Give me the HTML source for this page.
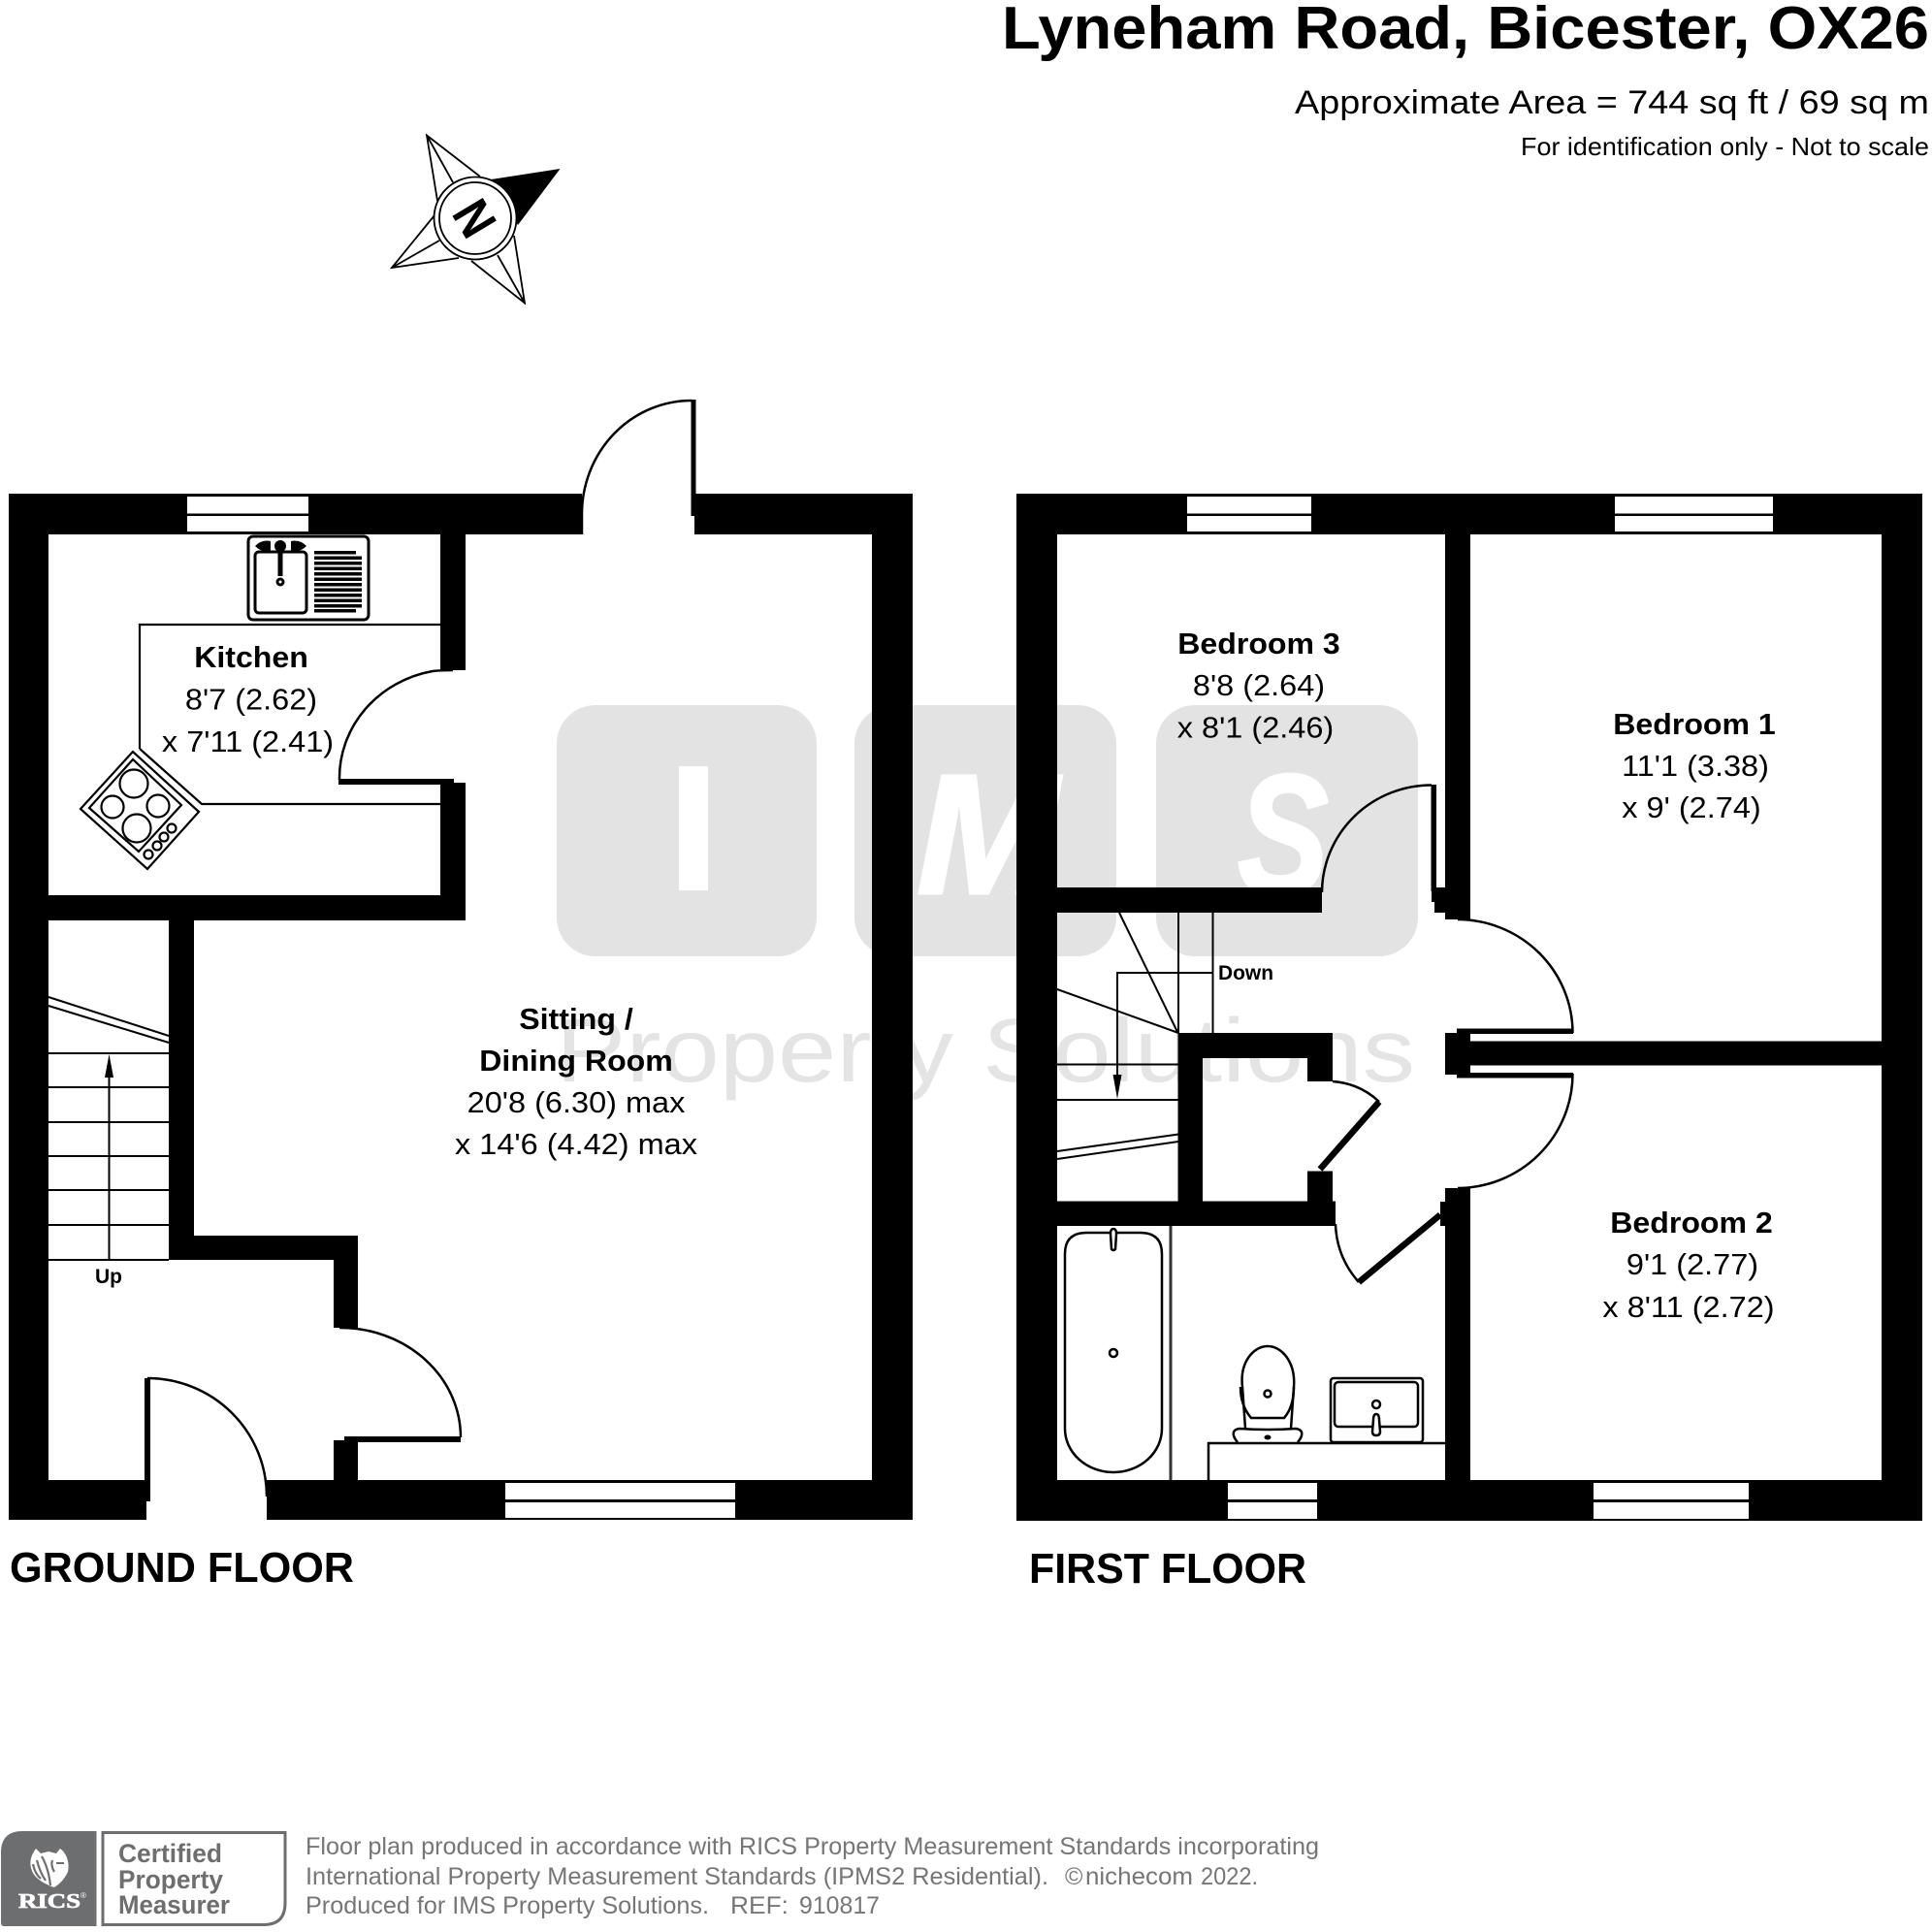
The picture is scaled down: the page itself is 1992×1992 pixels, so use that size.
<!DOCTYPE html>
<html>
<head>
<meta charset="utf-8">
<title>Lyneham Road, Bicester, OX26 floor plan</title>
<style>
html,body{margin:0;padding:0;background:#fff}
svg{display:block}
text{font-family:"Liberation Sans",Arial,sans-serif;fill:#000}
.l{font-size:31px;text-anchor:middle}
.lb{font-size:31px;font-weight:700;text-anchor:middle}
.f{font-size:25px;fill:#767676}
.c{font-size:27px;font-weight:700;fill:#6d6e70}
.wm{font-size:176px;font-weight:700;font-style:italic;fill:#fff;stroke:#fff;stroke-width:3px}
</style>
</head>
<body>
<svg xmlns="http://www.w3.org/2000/svg" width="1992" height="1992" viewBox="0 0 1992 1992">
<rect width="1992" height="1992" fill="#fff"/>

<!-- watermark -->
<g fill="#e3e3e3">
<rect x="574" y="727" width="268" height="259" rx="40"/>
<rect x="881" y="727" width="270" height="259" rx="40"/>
<rect x="1192" y="727" width="270" height="259" rx="40"/>
</g>
<rect x="700" y="790" width="30" height="128" fill="#fff"/>
<text class="wm" x="945" y="921">M</text>
<text class="wm" transform="translate(1276 921) scale(.8 1)">S</text>
<text x="573" y="1115" font-size="93" textLength="886" lengthAdjust="spacingAndGlyphs" style="fill:#e4e4e4">Property Solutions</text>

<!-- ground floor walls -->
<g fill="#000">
<rect x="9" y="509" width="591" height="42"/>
<rect x="717" y="509" width="224" height="23"/>
<rect x="716" y="531" width="225" height="20"/>
<rect x="9" y="509" width="41" height="1058"/>
<rect x="899" y="509" width="42" height="1058"/>
<rect x="9" y="1526" width="142" height="41"/>
<rect x="275" y="1526" width="666" height="41"/>
<rect x="454" y="551" width="26" height="140"/>
<rect x="454" y="807" width="26" height="142"/>
<rect x="9" y="923" width="471" height="26"/>
<rect x="174" y="949" width="26" height="350"/>
<rect x="174" y="1274" width="195" height="25"/>
<rect x="344" y="1274" width="25" height="95"/>
<rect x="344" y="1485" width="25" height="41"/>
<rect x="355" y="1482" width="14" height="4"/>
<!-- door leaves -->
<rect x="712.500" y="412" width="5" height="120"/>
<rect x="349" y="803" width="119" height="6"/>
<rect x="355" y="1481" width="120" height="6"/>
<rect x="149" y="1421" width="6" height="127"/>
</g>
<!-- ground windows -->
<g fill="#fff">
<rect x="193" y="512" width="125" height="17.500"/>
<rect x="193" y="532" width="125" height="16"/>
<rect x="521" y="1529" width="237" height="17"/>
<rect x="521" y="1549" width="237" height="16"/>
</g>
<!-- ground arcs + lines -->
<g fill="none" stroke="#000" stroke-width="2.500">
<path d="M713 413 A113 117 0 0 0 600 530 L600 551"/>
<path d="M467 691 Q454 691 446 692 A118 112 0 0 0 350 804"/>
<path d="M350 1369 A124 113 0 0 1 475 1482"/>
<path d="M152 1421 A123 122 0 0 1 275 1543"/>
<path d="M144 772 L144 644 L454 644 M144 772 L208 829 L454 829" stroke-width="2.200"/>
<path d="M50 1028 L174 1068 M50 1037 L174 1075" stroke-width="2"/>
<path d="M50 1086 H174 M50 1121 H174 M50 1157 H174 M50 1192 H174 M50 1227 H174 M50 1263 H174 M50 1299 H174" stroke-width="2"/>
<path d="M112.500 1299 V1100" stroke-width="2"/>
</g>
<path d="M112.500 1087 L117 1111 H108 Z" fill="#000"/>

<!-- sink -->
<g fill="none" stroke="#000" stroke-width="3">
<rect x="256" y="553" width="124" height="86" rx="5"/>
<rect x="263" y="569" width="53" height="63" rx="4"/>
<circle cx="289" cy="600" r="3"/>
</g>
<g fill="#000">
<circle cx="289" cy="563" r="6"/>
<rect x="286.500" y="563" width="5" height="31"/>
<path d="M263 563 Q270 556 279 558 V568 Q270 570 263 563Z"/>
<path d="M316 563 Q309 556 300 558 V568 Q309 570 316 563Z"/>
<rect x="324" y="568" width="43" height="3.500"/><rect x="324" y="573.500" width="49" height="3.500"/>
<rect x="324" y="579" width="49" height="3.500"/><rect x="324" y="584.500" width="49" height="3.500"/>
<rect x="324" y="590" width="49" height="3.500"/><rect x="324" y="595.500" width="49" height="3.500"/>
<rect x="324" y="601" width="49" height="3.500"/><rect x="324" y="606.500" width="49" height="3.500"/>
<rect x="324" y="612" width="49" height="3.500"/><rect x="324" y="617.500" width="49" height="3.500"/>
<rect x="324" y="623" width="49" height="3.500"/><rect x="324" y="628" width="43" height="3.500"/>
</g>
<!-- hob -->
<g fill="#fff" stroke="#000" stroke-width="2.200">
<path d="M137 775 L83 834 L152 896 L205 837 Z"/>
<path d="M137 783 L92 833 L143 878 L187 830 Z" fill="none"/>
<circle cx="138" cy="808" r="14.500"/>
<circle cx="116" cy="832" r="11.500"/>
<circle cx="163" cy="831" r="11.500"/>
<circle cx="141" cy="854" r="14.500"/>
<circle cx="153" cy="881" r="4.500"/>
<circle cx="162" cy="872" r="4.500"/>
<circle cx="169" cy="863" r="4.500"/>
<circle cx="177" cy="854" r="4.500"/>
</g>

<!-- first floor walls -->
<g fill="#000">
<rect x="1048" y="509" width="934" height="42"/>
<rect x="1048" y="509" width="42" height="1059"/>
<rect x="1940" y="509" width="42" height="1059"/>
<rect x="1048" y="1526" width="934" height="42"/>
<rect x="1490" y="551" width="26" height="397"/>
<rect x="1090" y="915" width="273" height="26"/>
<rect x="1476" y="915" width="14" height="15"/>
<rect x="1479" y="930" width="11" height="11"/>
<rect x="1475.500" y="809" width="5.500" height="110"/>
<rect x="1490" y="1065" width="26" height="43"/>
<rect x="1502" y="1060.500" width="120" height="5.500"/>
<rect x="1502" y="1106" width="120" height="5.500"/>
<rect x="1516" y="1073.500" width="425" height="25"/>
<rect x="1490" y="1225" width="26" height="301"/>
<rect x="1214.500" y="1065" width="159.500" height="26"/>
<rect x="1214.500" y="1065" width="25.500" height="180"/>
<rect x="1348" y="1065" width="26" height="50"/>
<rect x="1348" y="1207.500" width="26" height="35"/>
<rect x="1090" y="1238.500" width="287" height="25.500"/>
<rect x="1485" y="1239" width="5" height="25"/>
</g>
<g fill="none" stroke="#000">
<path d="M1422 1136 L1361 1205.500" stroke-width="6.500"/>
<path d="M1401 1322 L1485 1252.500" stroke-width="6.500"/>
<g stroke-width="2.500">
<path d="M1476 809.500 A113 111 0 0 0 1363 920"/>
<path d="M1503 948 A119 117 0 0 1 1621.500 1065"/>
<path d="M1621.500 1107 A119 118 0 0 1 1503 1225"/>
<path d="M1374 1115 Q1402 1117 1422 1136"/>
<path d="M1377 1262 Q1378 1296 1401 1322"/>
</g>
<g stroke-width="2">
<path d="M1154 941 L1214.500 1065"/>
<path d="M1215 941 V1065 M1250.500 941 V1065"/>
<path d="M1250 1003 H1152 V1112"/>
<path d="M1090 1020 L1215 1065"/>
<path d="M1090 1097.500 H1215 M1090 1134 H1215"/>
<path d="M1090 1187 L1215 1169.500 M1090 1195 L1215 1177"/>
</g>
</g>
<path d="M1152 1133 L1147.500 1108 H1156.500 Z" fill="#000"/>

<!-- first floor windows -->
<g fill="#fff">
<rect x="1224" y="512" width="128" height="17.500"/><rect x="1224" y="532" width="128" height="16"/>
<rect x="1665" y="512" width="163" height="17.500"/><rect x="1665" y="532" width="163" height="16"/>
<rect x="1266" y="1529" width="92" height="17"/><rect x="1266" y="1549" width="92" height="17"/>
<rect x="1643" y="1529" width="160" height="17"/><rect x="1643" y="1549" width="160" height="17"/>
</g>

<!-- bathroom -->
<g fill="none" stroke="#000" stroke-width="2.500">
<path d="M1207 1264 V1526" stroke="#333" stroke-width="3"/>
<path d="M1098 1293 Q1098 1271 1120 1271 H1176 Q1198 1271 1198 1293 V1473 A50 45 0 0 1 1098 1473 Z"/>
<circle cx="1148" cy="1395" r="4"/>
<path d="M1148 1267 Q1145 1267 1145 1272 L1146 1288 Q1148 1290 1150 1288 L1151 1272 Q1151 1267 1148 1267Z" fill="#fff"/>
<path d="M1246 1526 V1488 H1490"/>
<path d="M1284 1473 L1281 1430 C1278 1405 1292 1388 1307 1388 C1322 1388 1336 1405 1334 1430 L1331 1473"/>
<path d="M1279 1430 C1279 1445 1284 1455 1290 1462 H1324 C1330 1455 1334 1445 1334 1430"/>
<path d="M1276 1487 C1270 1480 1270 1474 1278 1473 Q1307 1475 1336 1473 C1344 1474 1344 1480 1338 1487"/>
<circle cx="1307" cy="1437" r="3.500"/>
<rect x="1372" y="1421" width="95" height="66" rx="3"/>
<rect x="1376" y="1425" width="86" height="46" rx="4"/>
<circle cx="1419" cy="1448" r="4"/>
<path d="M1419 1458 Q1416 1458 1416 1464 L1415 1476 Q1415 1480 1419 1480 Q1423 1480 1423 1476 L1422 1464 Q1422 1458 1419 1458Z" fill="#fff"/>
</g>
<ellipse cx="1307" cy="1482" rx="3.500" ry="2.500" fill="#000"/>

<!-- compass -->
<g stroke="#000" stroke-width="1.800" fill="#fff">
<path d="M495 182 L440 139.500 L451 207 M440 139.500 L467 188" fill="none"/>
<path d="M448 222 L404 276 L473 266 M404 276 L453 248" fill="none"/>
<path d="M486 269 L541 312.500 L530 243 M541 312.500 L513 263" fill="none"/>
</g>
<path d="M506 185 L577.500 174 L534 232 Z" fill="#000"/>
<circle cx="490" cy="225" r="42.500" fill="#fff" stroke="#000" stroke-width="1.800"/>
<circle cx="490" cy="225" r="37" fill="#fff" stroke="#000" stroke-width="1.800"/>
<text transform="translate(490 225) rotate(59) scale(.88 1) translate(-19.500 19)" font-size="53" font-weight="700">N</text>

<!-- labels -->
<text x="1989" y="50" text-anchor="end" font-size="62" font-weight="700" textLength="956" lengthAdjust="spacingAndGlyphs">Lyneham Road, Bicester, OX26</text>
<text x="1989" y="117" text-anchor="end" font-size="34.500" textLength="654" lengthAdjust="spacingAndGlyphs">Approximate Area = 744 sq ft / 69 sq m</text>
<text x="1989" y="160" text-anchor="end" font-size="26" textLength="421" lengthAdjust="spacingAndGlyphs">For identification only - Not to scale</text>

<text class="lb" transform="translate(259 688) scale(1.035 1)">Kitchen</text>
<text class="l" transform="translate(259 731.500) scale(1.048 1)">8'7 (2.62)</text>
<text class="l" transform="translate(255.500 775) scale(1.048 1)">x 7'11 (2.41)</text>

<text class="lb" transform="translate(594 1061) scale(1.035 1)">Sitting /</text>
<text class="lb" transform="translate(594 1104) scale(1.035 1)">Dining Room</text>
<text class="l" transform="translate(594 1147) scale(1.048 1)">20'8 (6.30) max</text>
<text class="l" transform="translate(594 1190) scale(1.048 1)">x 14'6 (4.42) max</text>

<text x="112" y="1323" font-size="21" font-weight="700" text-anchor="middle">Up</text>
<text x="1256" y="1010" font-size="21" font-weight="700" textLength="57" lengthAdjust="spacingAndGlyphs">Down</text>

<text class="lb" transform="translate(1298 674) scale(1.035 1)">Bedroom 3</text>
<text class="l" transform="translate(1298 717) scale(1.048 1)">8'8 (2.64)</text>
<text class="l" transform="translate(1294.500 760.500) scale(1.048 1)">x 8'1 (2.46)</text>

<text class="lb" transform="translate(1747 757) scale(1.035 1)">Bedroom 1</text>
<text class="l" transform="translate(1748 800) scale(1.048 1)">11'1 (3.38)</text>
<text class="l" transform="translate(1744 843) scale(1.048 1)">x 9' (2.74)</text>

<text class="lb" transform="translate(1744 1271) scale(1.035 1)">Bedroom 2</text>
<text class="l" transform="translate(1745 1314) scale(1.048 1)">9'1 (2.77)</text>
<text class="l" transform="translate(1741 1358) scale(1.048 1)">x 8'11 (2.72)</text>

<text x="10" y="1631" font-size="44" font-weight="700" textLength="355" lengthAdjust="spacingAndGlyphs">GROUND FLOOR</text>
<text x="1061" y="1632" font-size="44" font-weight="700" textLength="286" lengthAdjust="spacingAndGlyphs">FIRST FLOOR</text>

<!-- RICS -->
<path d="M1 1910 Q1 1888 23 1888 H99.500 V1986 H4 Q1 1986 1 1982 Z" fill="#6d6e70"/>
<path d="M37 1906 L42 1911 L50 1909 L58 1911 L62 1906 C69 1911 72 1921 70 1930 C66 1938 62 1942 56 1946 C50 1944 44 1941 39 1937 C33 1932 30 1924 32 1916 C33 1912 35 1909 37 1906 Z" fill="#fff"/>
<path d="M43 1914 Q50 1926 52 1944 M38 1918 Q41 1930 47 1939 M34 1922 Q36 1932 42 1937 M54 1918 Q52 1923 56 1930" stroke="#6d6e70" stroke-width="2.200" fill="none"/>
<path d="M58 1921 L66 1921" stroke="#6d6e70" stroke-width="2" fill="none"/>
<text x="19" y="1967" font-size="21" font-weight="700" textLength="64" lengthAdjust="spacingAndGlyphs" style="font-family:'Liberation Serif',serif;fill:#fff;stroke:#fff;stroke-width:.7px">RICS</text>
<text x="83" y="1957" font-size="8" style="fill:#fff">®</text>
<path d="M106 1889.500 H294 V1962 Q294 1984.500 272 1984.500 H106 Z" fill="#fff" stroke="#6d6e70" stroke-width="3"/>
<text class="c" x="122" y="1920" textLength="107" lengthAdjust="spacingAndGlyphs">Certified</text>
<text class="c" x="122" y="1947" textLength="108" lengthAdjust="spacingAndGlyphs">Property</text>
<text class="c" x="122" y="1973" textLength="115" lengthAdjust="spacingAndGlyphs">Measurer</text>

<text class="f" x="315" y="1912" textLength="1045" lengthAdjust="spacingAndGlyphs">Floor plan produced in accordance with RICS Property Measurement Standards incorporating</text>
<text class="f" x="315" y="1943" textLength="766" lengthAdjust="spacingAndGlyphs">International Property Measurement Standards (IPMS2 Residential).</text>
<text class="f" x="1098" y="1943">©</text>
<text class="f" x="1119" y="1943" textLength="111" lengthAdjust="spacingAndGlyphs">nichecom</text>
<text class="f" x="1238" y="1943" textLength="59" lengthAdjust="spacingAndGlyphs">2022.</text>
<text class="f" x="315" y="1973" textLength="416" lengthAdjust="spacingAndGlyphs">Produced for IMS Property Solutions.</text>
<text class="f" x="753" y="1973" textLength="60" lengthAdjust="spacingAndGlyphs">REF:</text>
<text class="f" x="824" y="1973" textLength="83" lengthAdjust="spacingAndGlyphs">910817</text>
</svg>
</body>
</html>
